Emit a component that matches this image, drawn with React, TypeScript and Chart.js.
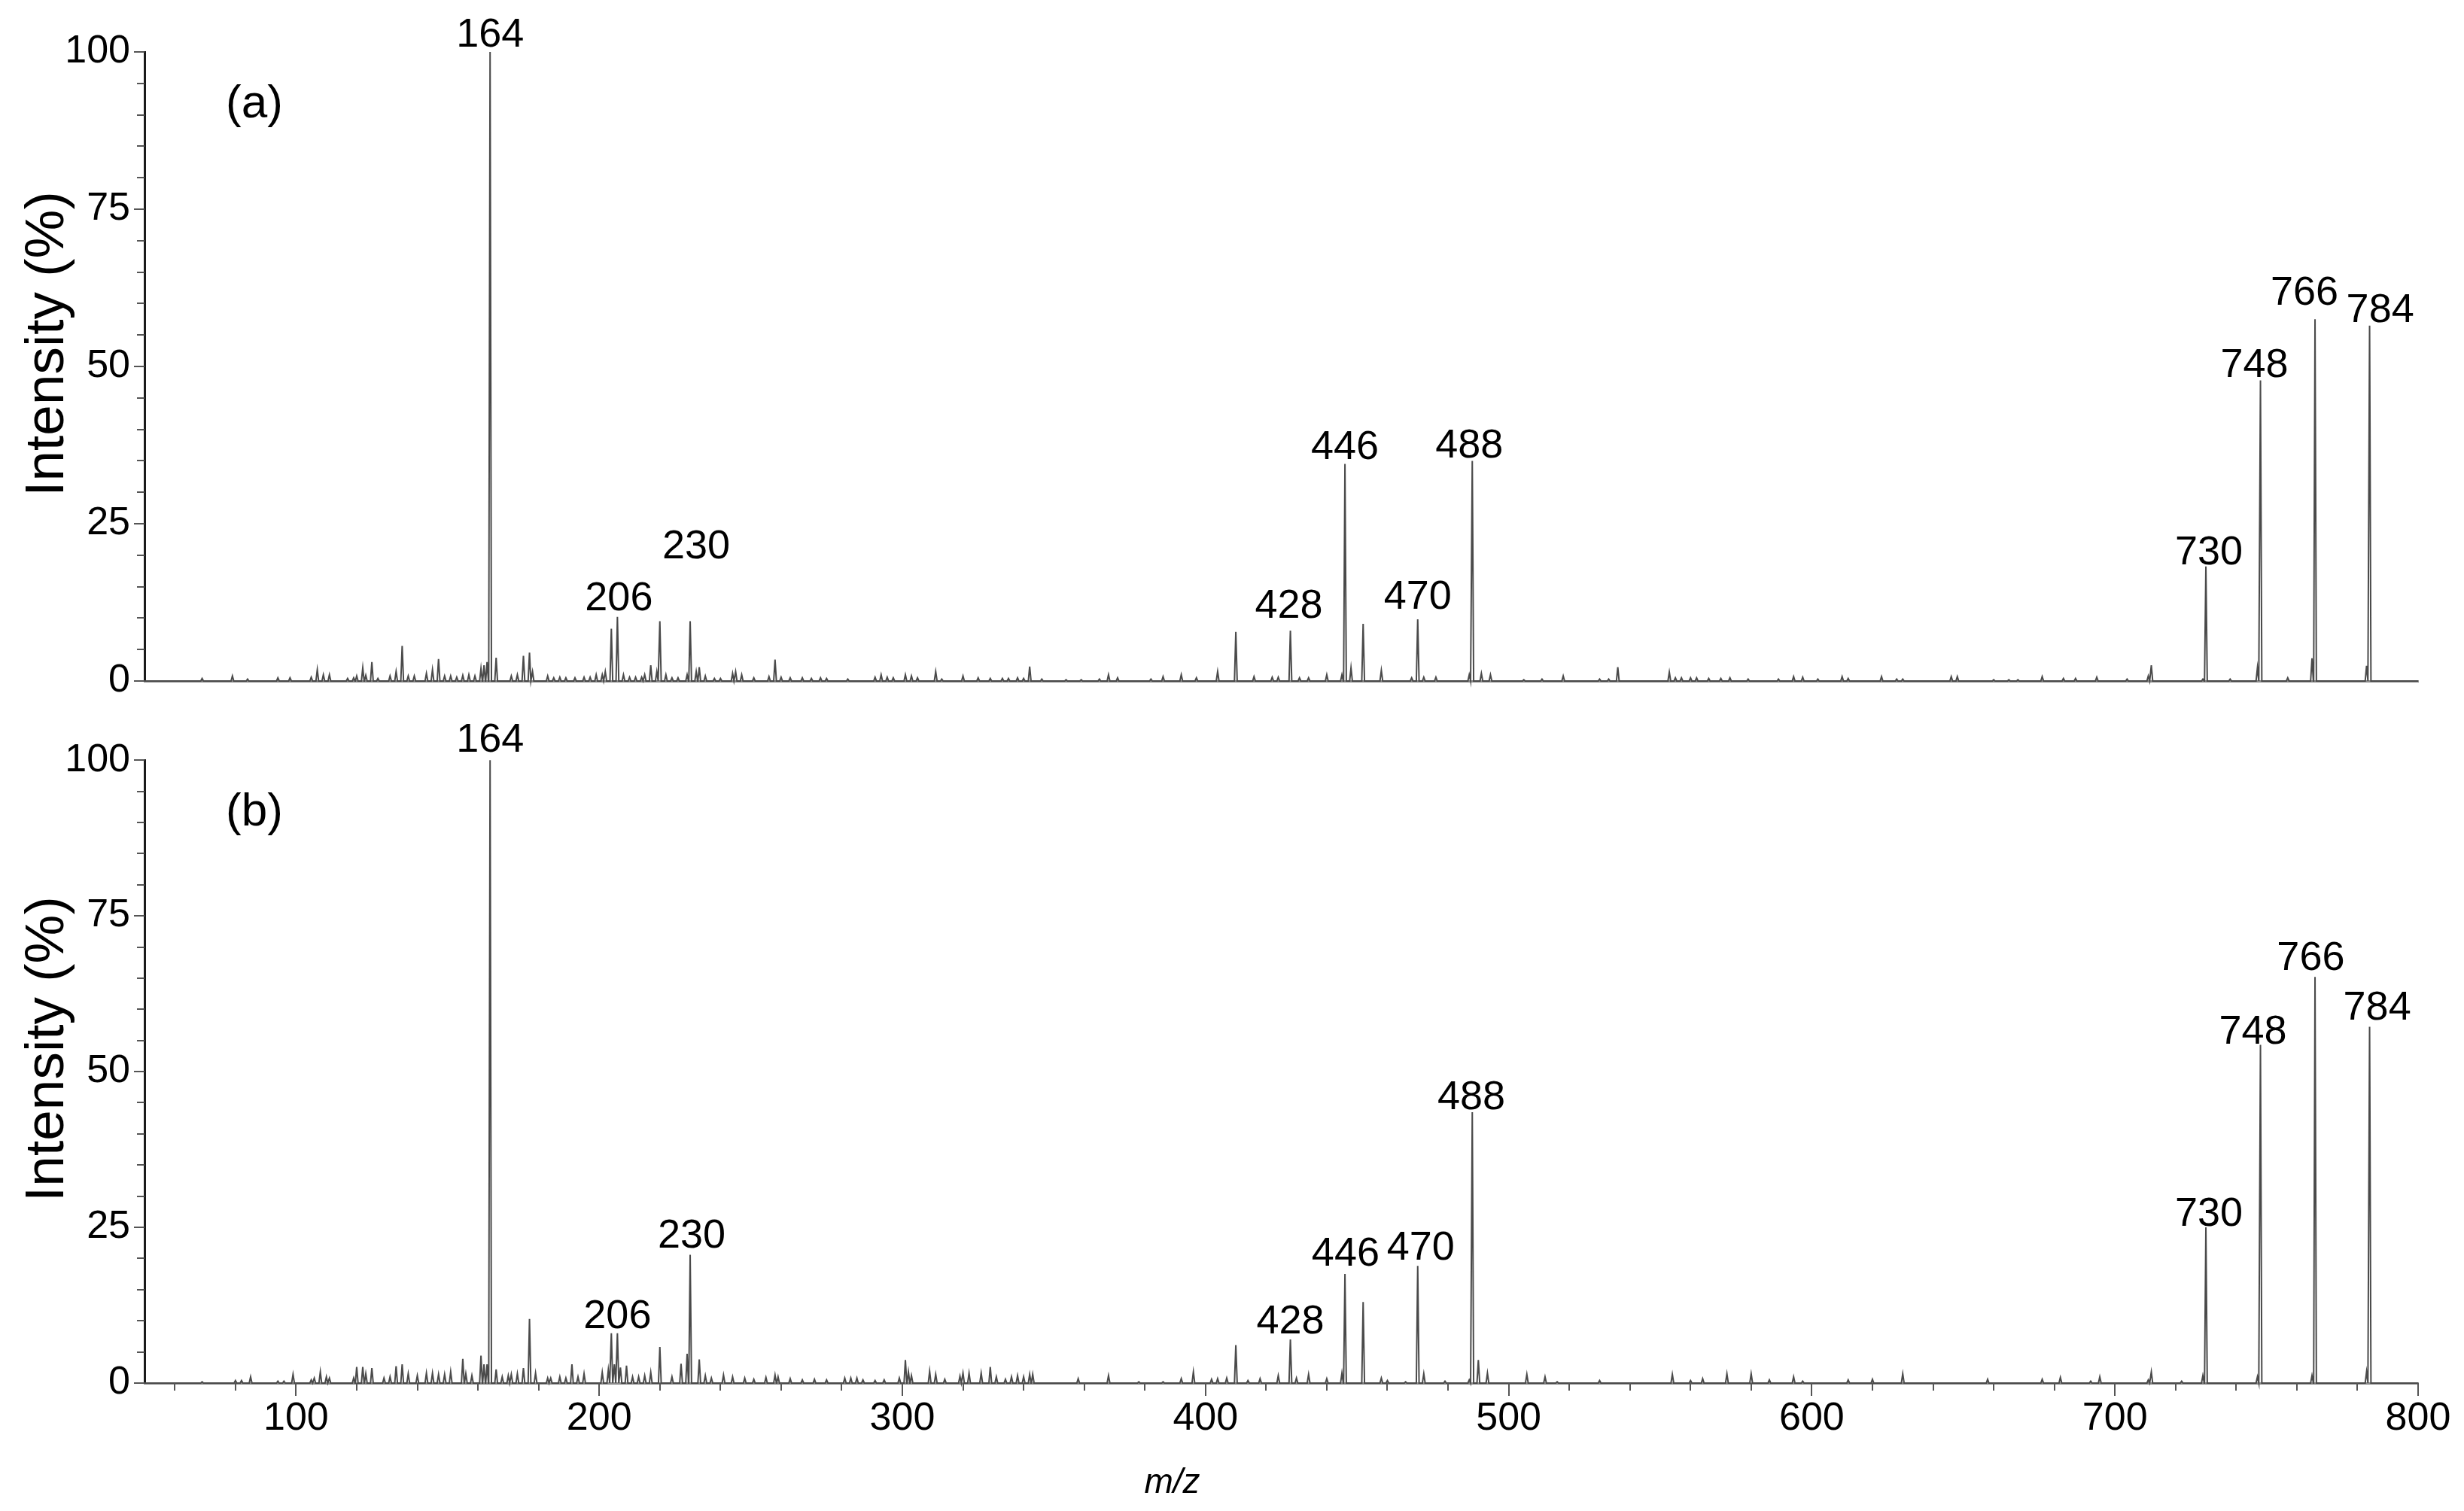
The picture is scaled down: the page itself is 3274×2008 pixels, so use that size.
import React, { useEffect, useRef } from 'react';
import { Chart, registerables } from 'chart.js';
Chart.register(...registerables);

const FONT = "'Liberation Sans', Arial, Helvetica, sans-serif";

// ---- axes ----
const X_MIN = 50;
const X_MAX = 800;
const X_TICK_LABELS = [100, 200, 300, 400, 500, 600, 700, 800];
const X_MINOR_STEP = 20;
const Y_MIN = 0;
const Y_MAX = 100;
const Y_TICK_LABELS = [0, 25, 50, 75, 100];
const Y_MINOR_STEP = 5;
const X_TITLE_MZ = 389; // m/z value under which the axis title sits

// ---- spectrum (a): [m/z, relative intensity %] ----
const spectrumA: [number, number][] = [
  [69, 0.4], [79, 0.8], [84, 0.3], [94, 0.5], [98, 0.5], [105, 0.6], [107, 1.8], [109, 1.0], [111, 1.0],
  [117, 0.4], [119, 0.5], [120, 0.8], [122, 2.1], [123, 0.9], [125, 3.0], [127, 0.4], [131, 0.8], [133, 1.5],
  [135, 5.6], [137, 0.8], [139, 0.8], [143, 1.2], [145, 1.8], [147, 3.5], [149, 0.8], [151, 0.8], [153, 0.6],
  [155, 0.9], [157, 1.0], [159, 0.8], [161, 2.0], [162, 2.5], [163, 3.0], [164, 100], [166, 3.7], [171, 0.8],
  [173, 1.0], [175, 4.0], [177, 4.5], [178, 1.5], [183, 0.8], [185, 0.5], [187, 0.6], [189, 0.5], [192, 0.5],
  [195, 0.6], [197, 0.6], [199, 1.0], [201, 1.0], [202, 1.5], [204, 8.3], [206, 10.2], [208, 1.0], [210, 0.6],
  [212, 0.6], [214, 0.6], [215, 1.0], [217, 2.5], [219, 1.5], [220, 9.5], [222, 1.0], [224, 0.5], [226, 0.5],
  [229, 1.0], [230, 9.5], [232, 1.5], [233, 2.2], [235, 0.8], [238, 0.4], [240, 0.4], [244, 1.2], [245, 1.5],
  [247, 1.0], [251, 0.5], [256, 0.7], [258, 3.4], [260, 0.6], [263, 0.5], [267, 0.5], [270, 0.4], [273, 0.5],
  [275, 0.4], [282, 0.3], [291, 0.6], [293, 1.0], [295, 0.6], [297, 0.5], [301, 1.0], [303, 0.8], [305, 0.5],
  [311, 1.5], [313, 0.3], [320, 0.8], [325, 0.5], [329, 0.4], [333, 0.4], [335, 0.4], [338, 0.5], [340, 0.4],
  [342, 2.3], [346, 0.3], [354, 0.2], [359, 0.2], [365, 0.3], [368, 1.0], [371, 0.5], [382, 0.3], [386, 0.7],
  [392, 1.0], [397, 0.5], [404, 1.5], [410, 7.8], [416, 0.7], [422, 0.6], [424, 0.6], [428, 8.0], [431, 0.5],
  [434, 0.5], [440, 1.0], [445, 1.0], [446, 34.5], [448, 2.1], [452, 9.1], [458, 1.7], [468, 0.5], [470, 9.8],
  [472, 0.6], [476, 0.6], [487, 1.0], [488, 35.0], [491, 1.2], [494, 1.0], [505, 0.2], [511, 0.3], [518, 0.8],
  [530, 0.3], [533, 0.3], [536, 2.2], [553, 1.4], [555, 0.5], [557, 0.5], [560, 0.5], [562, 0.5], [566, 0.4],
  [570, 0.4], [573, 0.5], [579, 0.3], [589, 0.3], [594, 0.7], [597, 0.6], [602, 0.3], [610, 0.7], [612, 0.4],
  [623, 0.7], [628, 0.3], [630, 0.3], [646, 0.7], [648, 0.7], [660, 0.2], [665, 0.2], [668, 0.2], [676, 0.7],
  [683, 0.4], [687, 0.4], [694, 0.6], [704, 0.3], [711, 0.8], [712, 2.5], [729, 0.3], [730, 18.2], [738, 0.3],
  [747, 2.1], [748, 47.8], [757, 0.5], [765, 3.6], [766, 57.5], [783, 2.4], [784, 56.5],
];

// ---- spectrum (b) ----
const spectrumB: [number, number][] = [
  [69, 0.2], [80, 0.4], [82, 0.4], [85, 1.0], [94, 0.3], [96, 0.3], [99, 1.4], [105, 0.5], [106, 0.8], [108, 1.8],
  [110, 1.0], [111, 0.8], [119, 0.8], [120, 2.6], [122, 2.6], [123, 1.5], [125, 2.4], [129, 0.8], [131, 1.0],
  [133, 2.7], [135, 3.0], [137, 1.5], [140, 1.2], [143, 1.6], [145, 1.6], [147, 1.4], [149, 1.4], [151, 1.8],
  [155, 3.9], [156, 1.5], [158, 1.2], [161, 4.4], [162, 3.0], [163, 3.0], [164, 100], [166, 2.2], [168, 1.0],
  [170, 1.2], [171, 1.4], [173, 1.5], [175, 2.4], [177, 10.3], [179, 1.6], [183, 0.8], [184, 0.8], [187, 1.0],
  [189, 0.8], [191, 3.0], [193, 1.0], [195, 1.5], [201, 1.7], [203, 2.1], [204, 8.0], [205, 3.0], [206, 8.0],
  [207, 2.5], [209, 2.8], [211, 1.0], [213, 1.0], [215, 1.2], [217, 1.7], [220, 5.8], [224, 1.0], [227, 3.1],
  [229, 4.7], [230, 20.6], [233, 3.8], [235, 1.2], [237, 0.8], [241, 1.3], [244, 1.0], [248, 0.8], [251, 0.6],
  [255, 0.9], [258, 1.3], [259, 1.0], [263, 0.7], [267, 0.5], [271, 0.6], [275, 0.5], [281, 0.8], [283, 0.8],
  [285, 0.8], [287, 0.5], [291, 0.4], [294, 0.5], [299, 0.8], [301, 3.7], [302, 1.8], [303, 1.2], [309, 1.9],
  [311, 1.4], [314, 0.6], [319, 1.1], [320, 1.6], [322, 1.6], [326, 1.6], [329, 2.6], [331, 1.0], [334, 0.6],
  [336, 1.0], [338, 1.2], [340, 1.0], [342, 1.4], [343, 1.4], [358, 0.7], [368, 1.2], [378, 0.2], [386, 0.2],
  [392, 0.7], [396, 1.8], [402, 0.6], [404, 0.7], [407, 0.8], [410, 6.1], [414, 0.4], [418, 0.7], [424, 1.2],
  [428, 7.0], [430, 0.8], [434, 1.4], [440, 0.7], [445, 1.6], [446, 17.5], [452, 13.0], [458, 0.8], [460, 0.4],
  [466, 0.2], [470, 18.8], [472, 1.5], [479, 0.3], [487, 0.5], [488, 43.5], [490, 3.7], [493, 1.6], [506, 1.4],
  [512, 1.0], [516, 0.2], [530, 0.4], [554, 1.4], [560, 0.4], [564, 0.7], [572, 1.5], [580, 1.5], [586, 0.5],
  [594, 1.0], [597, 0.3], [612, 0.5], [620, 0.6], [630, 1.5], [658, 0.6], [676, 0.6], [682, 0.9], [692, 0.3],
  [695, 1.0], [711, 0.5], [712, 1.8], [722, 0.3], [729, 1.2], [730, 25.0], [747, 1.0], [748, 54.3], [765, 1.2],
  [766, 65.2], [783, 1.8], [784, 57.2],
];

// ---- peak annotations ----
const labelTextA = ['164', '206', '230', '428', '446', '470', '488', '730', '748', '766', '784'];
const labelMzA = [164, 206.5, 232, 427.5, 446, 470, 487, 731, 746, 762.5, 787.5];
const labelYA = [100.8, 11.3, 19.5, 10, 35.3, 11.5, 35.5, 18.5, 48.3, 59.8, 57];

const labelTextB = ['164', '206', '230', '428', '446', '470', '488', '730', '748', '766', '784'];
const labelMzB = [164, 206, 230.5, 428, 446.2, 471, 487.7, 731, 745.5, 764.6, 786.5];
const labelYB = [101.3, 8.8, 21.8, 8, 18.8, 19.8, 44, 25.3, 54.5, 66.3, 58.3];

const PEAK_HALF_WIDTH = 0.45;

function buildLine(spec: [number, number][]) {
  const sorted = [...spec].sort((a, b) => a[0] - b[0]);
  const pts: { x: number; y: number }[] = [{ x: X_MIN, y: 0 }];
  for (const [mz, h] of sorted) {
    pts.push({ x: mz - PEAK_HALF_WIDTH, y: 0 }, { x: mz, y: h }, { x: mz + PEAK_HALF_WIDTH, y: 0 });
  }
  pts.push({ x: X_MAX, y: 0 });
  return pts;
}

type PanelCfg = {
  spectrum: [number, number][];
  labelText: string[];
  labelMz: number[];
  labelY: number[];
  panelTag: string;
  showX: boolean;
  padTop: number;
  padBottom: number;
  xAxisHeight: number;
};

function makeChart(canvas: HTMLCanvasElement, cfg: PanelCfg) {
  const decor = {
    id: 'decor',
    afterDraw(chart: any) {
      const ctx = chart.ctx as CanvasRenderingContext2D;
      const ca = chart.chartArea;
      const xs = chart.scales.x;
      const ys = chart.scales.y;
      ctx.save();
      // y ticks (major/minor)
      ctx.strokeStyle = '#555';
      ctx.lineWidth = 2;
      for (let v = Y_MIN; v <= Y_MAX; v += Y_MINOR_STEP) {
        const py = Math.round(ys.getPixelForValue(v));
        const len = Y_TICK_LABELS.includes(v) ? 14 : 10;
        ctx.beginPath();
        ctx.moveTo(ca.left - len, py);
        ctx.lineTo(ca.left, py);
        ctx.stroke();
      }
      if (cfg.showX) {
        for (let v = 60; v <= X_MAX; v += X_MINOR_STEP) {
          const px = Math.round(xs.getPixelForValue(v));
          const len = X_TICK_LABELS.includes(v) ? 17 : 10;
          ctx.beginPath();
          ctx.moveTo(px, ca.bottom);
          ctx.lineTo(px, ca.bottom + len);
          ctx.stroke();
        }
      }
      // peak labels
      ctx.fillStyle = '#000';
      ctx.font = `54px ${FONT}`;
      ctx.textAlign = 'center';
      ctx.textBaseline = 'alphabetic';
      cfg.labelText.forEach((t, i) => {
        ctx.fillText(t, xs.getPixelForValue(cfg.labelMz[i]), ys.getPixelForValue(cfg.labelY[i]));
      });
      // panel tag
      ctx.font = `62px ${FONT}`;
      ctx.textBaseline = 'middle';
      ctx.fillText(cfg.panelTag, ca.left + 146, ca.top + 70);
      // y title
      ctx.save();
      ctx.translate(64, (ca.top + ca.bottom) / 2 - 30);
      ctx.rotate(-Math.PI / 2);
      ctx.font = `73px ${FONT}`;
      ctx.textAlign = 'center';
      ctx.textBaseline = 'middle';
      ctx.fillText('Intensity (%)', 0, 0);
      ctx.restore();
      // x title
      if (cfg.showX) {
        ctx.font = `italic 46px ${FONT}`;
        ctx.textAlign = 'center';
        ctx.textBaseline = 'middle';
        ctx.fillText('m/z', xs.getPixelForValue(X_TITLE_MZ), ca.bottom + 133);
      }
      ctx.restore();
    },
  };

  return new Chart(canvas, {
    type: 'scatter',
    data: {
      datasets: [
        {
          data: buildLine(cfg.spectrum),
          showLine: true,
          pointRadius: 0,
          borderColor: '#4a4a4a',
          borderWidth: 2,
          tension: 0,
          clip: false as any,
        },
      ],
    },
    options: {
      responsive: false,
      animation: false,
      events: [],
      layout: { padding: { left: 0, right: 61, top: cfg.padTop, bottom: cfg.padBottom } },
      plugins: { legend: { display: false }, tooltip: { enabled: false } },
      scales: {
        x: {
          type: 'linear',
          min: X_MIN,
          max: X_MAX,
          grid: { display: false, drawTicks: false },
          border: { display: true, color: '#8a8a8a', width: 3 },
          ticks: {
            display: cfg.showX,
            padding: 16,
            color: '#000',
            font: { family: FONT, size: 52 },
            maxRotation: 0,
            autoSkip: false,
          },
          afterBuildTicks: (s: any) => {
            s.ticks = X_TICK_LABELS.map((v) => ({ value: v }));
          },
          afterFit: (s: any) => {
            s.height = cfg.xAxisHeight;
          },
        },
        y: {
          type: 'linear',
          min: Y_MIN,
          max: Y_MAX,
          grid: { display: false, drawTicks: false },
          border: { display: true, color: '#1a1a1a', width: 3 },
          ticks: {
            padding: 19,
            color: '#000',
            font: { family: FONT, size: 52 },
            autoSkip: false,
          },
          afterBuildTicks: (s: any) => {
            s.ticks = Y_TICK_LABELS.map((v) => ({ value: v }));
          },
          afterFit: (s: any) => {
            s.width = 192;
          },
        },
      },
    },
    plugins: [decor],
  } as any);
}

const W = 3274;
const TOP_H = 960;
const BOT_H = 1048;

export default function App() {
  const topRef = useRef<HTMLCanvasElement>(null);
  const botRef = useRef<HTMLCanvasElement>(null);

  useEffect(() => {
    document.body.style.margin = '0';
    const c1 = makeChart(topRef.current!, {
      spectrum: spectrumA,
      labelText: labelTextA,
      labelMz: labelMzA,
      labelY: labelYA,
      panelTag: '(a)',
      showX: false,
      padTop: 69,
      padBottom: 55,
      xAxisHeight: 0,
    });
    const c2 = makeChart(botRef.current!, {
      spectrum: spectrumB,
      labelText: labelTextB,
      labelMz: labelMzB,
      labelY: labelYB,
      panelTag: '(b)',
      showX: true,
      padTop: 42,
      padBottom: 0,
      xAxisHeight: 170,
    });
    return () => {
      c1.destroy();
      c2.destroy();
    };
  }, []);

  return (
    <div style={{ position: 'absolute', left: 0, top: 0, width: W, height: TOP_H + BOT_H, background: '#fff', overflow: 'hidden' }}>
      <canvas ref={topRef} width={W} height={TOP_H} style={{ position: 'absolute', left: 0, top: 0, width: W, height: TOP_H }} />
      <canvas ref={botRef} width={W} height={BOT_H} style={{ position: 'absolute', left: 0, top: TOP_H, width: W, height: BOT_H }} />
    </div>
  );
}
